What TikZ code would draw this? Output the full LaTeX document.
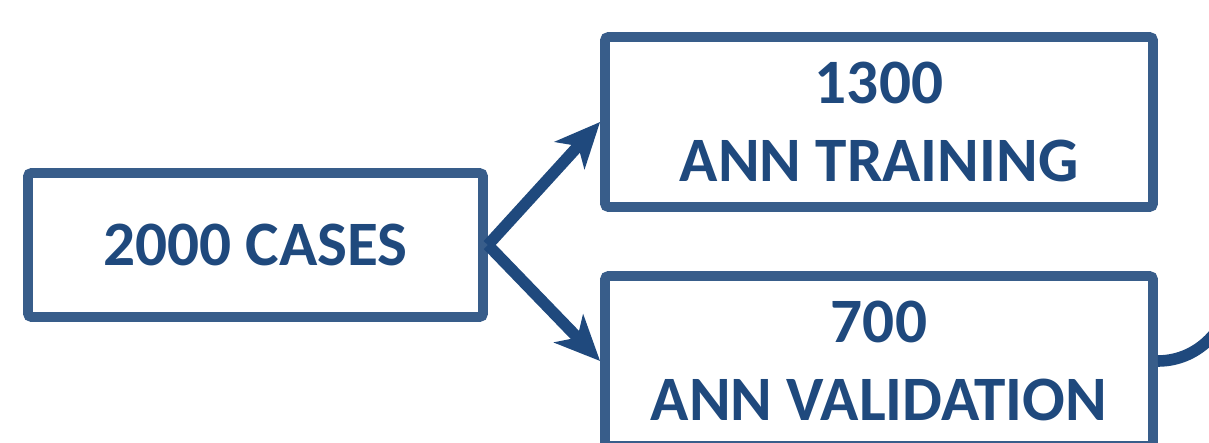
\documentclass[tikz,border=0pt]{standalone}
\usepackage{fontspec}
\setmainfont{Carlito}
\usetikzlibrary{arrows.meta}
\definecolor{boxblue}{HTML}{385D8A}
\definecolor{darkblue}{HTML}{1F497D}
\tikzset{>={Stealth[length=9mm,width=8mm,inset=2.5mm]}}
\tikzset{casebox/.style={draw=boxblue, line width=5.6pt, rounded corners=2pt, align=center,
    text=darkblue, font=\fontsize{36}{44}\selectfont\bfseries, inner sep=0pt}}

\begin{document}
\begin{tikzpicture}
      \useasboundingbox (0, 0) rectangle (24.18, 8.86);
      % boxes
      \node[casebox, minimum width=9.10cm, minimum height=2.88cm] (all) at (5.11, 3.96) {2000 CASES};
      \node[casebox, minimum width=10.96cm, minimum height=3.40cm] (train) at (17.58, 6.42) {1300\\ANN TRAINING};
      \node[casebox, minimum width=10.96cm, minimum height=3.40cm] (valid) at (17.58, 1.64) {700\\ANN VALIDATION};
      \coordinate (next) at (24.66, 3.24);
      % arrows
      \draw[->, darkblue, line width=6.6pt] (all.east) -- (train.west);
      \draw[->, darkblue, line width=6.6pt] (all.east) -- (valid.west);
      \draw[darkblue, line width=6.6pt] (valid.east) to[out=0, in=-90] (next);
    \end{tikzpicture}
\end{document}
